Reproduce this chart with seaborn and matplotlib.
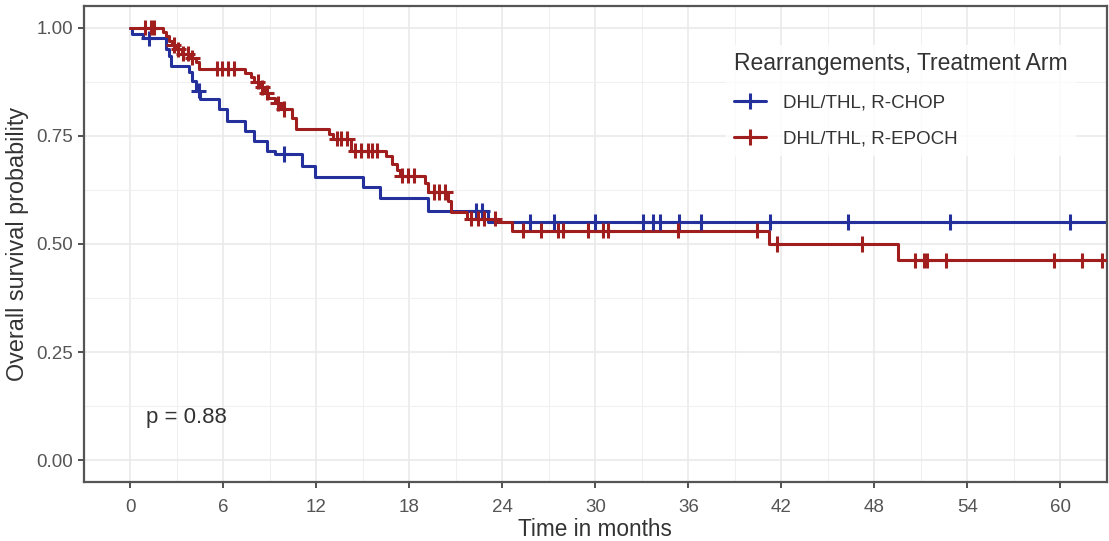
# plot.py - Kaplan-Meier overall survival, R-CHOP vs R-EPOCH

import numpy as np
import pandas as pd
import matplotlib
matplotlib.use("Agg")
import matplotlib.pyplot as plt
from matplotlib.lines import Line2D
import seaborn as sns

# step curves (time in months, survival after the step)
chop_time = [0, 0.1, 0.8, 2.3, 2.5, 2.6, 3.8, 4.0, 4.2, 4.5, 5.7, 6.2, 7.4,
             8.0, 8.8, 9.3, 11.1, 11.9, 15.0, 16.1, 19.2, 23.1, 63.5]
chop_surv = [1.0, 0.986, 0.975, 0.95, 0.935, 0.912, 0.898, 0.876, 0.854, 0.836,
             0.812, 0.785, 0.762, 0.738, 0.715, 0.708, 0.681, 0.655, 0.631,
             0.606, 0.577, 0.551, 0.551]
chop_censor = [1.2, 4.4, 9.9, 22.3, 22.7, 25.8, 27.3, 30.0, 33.1, 33.7, 34.2,
               35.4, 36.8, 41.3, 46.3, 52.9, 60.6]

epoch_time = [0, 2.1, 2.3, 2.5, 2.7, 3.0, 3.3, 3.8, 4.2, 4.4, 7.4, 7.8, 8.0,
              8.3, 8.6, 8.9, 9.3, 9.7, 10.4, 10.7, 12.8, 13.1, 14.2, 16.5, 16.9,
              17.2, 17.4, 19.0, 19.2, 20.5, 20.7, 21.7, 23.7, 24.6, 41.2, 49.5,
              63.5]
epoch_surv = [1.0, 0.99, 0.98, 0.97, 0.96, 0.95, 0.94, 0.93, 0.92, 0.905, 0.895,
              0.885, 0.875, 0.862, 0.85, 0.838, 0.825, 0.812, 0.79, 0.766, 0.755,
              0.743, 0.716, 0.704, 0.685, 0.67, 0.658, 0.64, 0.62, 0.60, 0.574,
              0.558, 0.55, 0.531, 0.50, 0.462, 0.462]
epoch_censor = [0.97, 1.3, 1.5, 2.8, 3.1, 3.4, 3.7, 4.0, 5.6, 5.9, 6.3, 6.7,
                8.2, 8.5, 8.8, 9.5, 9.9, 13.3, 13.6, 14.0, 14.5, 14.9, 15.3,
                15.6, 15.9, 17.5, 17.9, 18.3, 19.6, 19.9, 20.3, 22.0, 22.4, 22.8,
                23.5, 25.3, 26.5, 27.6, 27.9, 29.5, 30.5, 30.8, 35.3, 40.4, 41.7,
                47.2, 50.6, 51.2, 51.4, 52.6, 59.6, 61.4, 62.7]

groups = ["DHL/THL, R-CHOP", "DHL/THL, R-EPOCH"]
colors = ["#24319c", "#a01e1e"]
p_text = "p = 0.88"


def surv_at(times, surv, t):
    idx = np.searchsorted(times, t, side="right") - 1
    return np.asarray(surv)[idx]


curves = pd.concat([
    pd.DataFrame({"time": chop_time, "surv": chop_surv, "arm": groups[0]}),
    pd.DataFrame({"time": epoch_time, "surv": epoch_surv, "arm": groups[1]}),
])
censors = pd.concat([
    pd.DataFrame({"time": chop_censor,
                  "surv": surv_at(chop_time, chop_surv, chop_censor),
                  "arm": groups[0]}),
    pd.DataFrame({"time": epoch_censor,
                  "surv": surv_at(epoch_time, epoch_surv, epoch_censor),
                  "arm": groups[1]}),
])

sns.set_theme(style="white")
plt.rcParams["font.family"] = ["Liberation Sans", "DejaVu Sans"]

fig, ax = plt.subplots(figsize=(11.09, 5.41), dpi=100)
fig.subplots_adjust(left=0.0757, right=0.998, top=0.989, bottom=0.109)

palette = dict(zip(groups, colors))
sns.lineplot(data=curves, x="time", y="surv", hue="arm", palette=palette,
             drawstyle="steps-post", estimator=None, sort=False,
             linewidth=2.2, legend=False, ax=ax)
sns.scatterplot(data=censors, x="time", y="surv", hue="arm", palette=palette,
                marker="+", s=120, linewidth=2.2, legend=False, ax=ax, zorder=3)

ax.set_xlim(-3, 63)
ax.set_ylim(-0.05, 1.05)
ax.set_xticks(np.arange(0, 61, 6))
ax.set_yticks([0, 0.25, 0.5, 0.75, 1.0])
ax.set_yticklabels(["0.00", "0.25", "0.50", "0.75", "1.00"])
ax.set_xticks(np.arange(3, 63, 6), minor=True)
ax.set_yticks([0.125, 0.375, 0.625, 0.875], minor=True)
ax.grid(True, which="major", color="#e8e8e8", linewidth=1.1)
ax.grid(True, which="minor", color="#f0f0f0", linewidth=0.8)
ax.set_axisbelow(True)

for s in ax.spines.values():
    s.set_color("#555555")
    s.set_linewidth(1.6)

ax.tick_params(axis="both", which="major", length=4, width=1.2,
               color="#333333", labelcolor="#555555", labelsize=13.5, pad=4,
               bottom=True, left=True)
ax.tick_params(axis="x", which="major", pad=8)
ax.tick_params(axis="both", which="minor", length=0)

ax.set_xlabel("Time in months", fontsize=16.3, color="#333333", labelpad=2)
ax.set_ylabel("Overall survival probability", fontsize=16.8, color="#333333",
              labelpad=5)

ax.text(1.0, 0.1, p_text, fontsize=16, color="#333333", ha="left", va="center")

handles = [Line2D([0], [0], color=c, linewidth=2.2, marker="+", markersize=11,
                  markeredgewidth=2.2) for c in colors]
leg = ax.legend(handles, groups, title="Rearrangements, Treatment Arm",
                loc="upper left", bbox_to_anchor=(0.619, 0.938),
                frameon=True, fontsize=13.5, title_fontsize=16.5,
                handlelength=1.7, handletextpad=0.9, labelspacing=1.0,
                borderpad=0.4)
leg.get_frame().set_facecolor("white")
leg.get_frame().set_edgecolor("white")
leg._legend_box.align = "left"
leg._legend_box.sep = 14
for t in leg.get_texts():
    t.set_color("#333333")
leg.get_title().set_color("#333333")

fig.savefig("out.png", dpi=100)
